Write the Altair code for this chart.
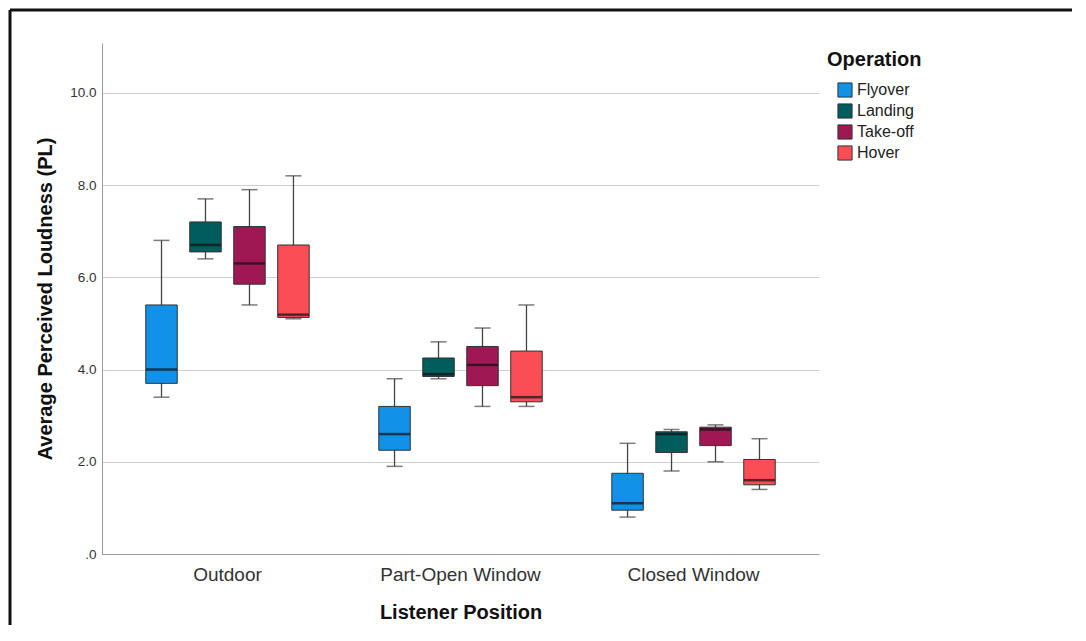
import altair as alt
import pandas as pd

positions = ["Outdoor", "Part-Open Window", "Closed Window"]
operations = ["Flyover", "Landing", "Take-off", "Hover"]
colors = ["#1192e8", "#005d5d", "#9f1853", "#fa4d56"]

# per position, in order of operations
lo = [3.4, 6.4, 5.4, 5.1,
      1.9, 3.8, 3.2, 3.2,
      0.8, 1.8, 2.0, 1.4]
q1 = [3.7, 6.55, 5.85, 5.13,
      2.25, 3.85, 3.65, 3.3,
      0.95, 2.2, 2.35, 1.5]
med = [4.0, 6.7, 6.3, 5.19,
       2.6, 3.9, 4.1, 3.4,
       1.1, 2.6, 2.7, 1.6]
q3 = [5.4, 7.2, 7.1, 6.7,
      3.2, 4.25, 4.5, 4.4,
      1.75, 2.65, 2.75, 2.05]
hi = [6.8, 7.7, 7.9, 8.2,
      3.8, 4.6, 4.9, 5.4,
      2.4, 2.7, 2.8, 2.5]

rows = []
i = 0
for p in positions:
    for o in operations:
        rows.append(dict(position=p, operation=o, lo=lo[i], q1=q1[i], med=med[i], q3=q3[i], hi=hi[i]))
        i += 1
df = pd.DataFrame(rows)

YTITLE = "Average Perceived Loudness (PL)"
yscale = alt.Scale(domain=[0, 11.08], nice=False, zero=True)
yaxis = alt.Axis(values=[0, 2, 4, 6, 8, 10],
                 labelExpr="datum.value == 0 ? '.0' : format(datum.value, '.1f')",
                 grid=True, gridColor="#cfcfcf", gridWidth=1, ticks=False,
                 domainColor="#9a9a9a", labelFontSize=13.5, labelColor="#333333",
                 labelPadding=6, titleFontSize=20, titleFontWeight="bold",
                 titleColor="#111111", titlePadding=14)


def Y(field):
    return alt.Y(field + ":Q", scale=yscale, axis=yaxis, title=YTITLE)


x = alt.X("position:N", sort=positions,
          scale=alt.Scale(paddingInner=0.245, paddingOuter=0.161),
          axis=alt.Axis(labelAngle=0, ticks=False, domainColor="#9a9a9a", labelFontSize=19,
                        labelColor="#333333", labelPadding=11, titleFontSize=20,
                        titleFontWeight="bold", titleColor="#111111", titlePadding=18,
                        grid=False),
          title="Listener Position")
xo = alt.XOffset("operation:N", sort=operations,
                 scale=alt.Scale(paddingInner=0.284, paddingOuter=0.142))

base = alt.Chart(df).encode(x=x, xOffset=xo)

whisker = base.mark_rule(color="#444444", strokeWidth=1.3).encode(y=Y("lo"), y2="hi:Q")
cap_lo = base.mark_tick(color="#444444", size=16, thickness=1.5).encode(y=Y("lo"))
cap_hi = base.mark_tick(color="#444444", size=16, thickness=1.5).encode(y=Y("hi"))
box = base.mark_bar(stroke="#333333", strokeWidth=1).encode(
    y=Y("q1"), y2="q3:Q",
    color=alt.Color("operation:N", sort=operations,
                    scale=alt.Scale(domain=operations, range=colors),
                    legend=alt.Legend(title="Operation", orient="none", legendX=725, legendY=7,
                                      titleFontSize=20, titleFontWeight="bold",
                                      titleColor="#111111", titlePadding=12,
                                      labelFontSize=16, labelColor="#222222",
                                      symbolType="square", symbolSize=200,
                                      symbolStrokeColor="#333333", symbolStrokeWidth=1,
                                      symbolOpacity=1, rowPadding=1, labelOffset=4,
                                      symbolOffset=10)))
median = base.mark_tick(color="#111111", size=31, thickness=2.5).encode(y=Y("med"))

frame_df = pd.DataFrame({"a": [0]})
frame_left = alt.Chart(frame_df).mark_rule(color="#111111", strokeWidth=3).encode(
    x=alt.value(-92), y=alt.value(-33), y2=alt.value(582))
frame_top = alt.Chart(frame_df).mark_rule(color="#111111", strokeWidth=3).encode(
    x=alt.value(-92), x2=alt.value(970), y=alt.value(-33))

chart = alt.layer(whisker, cap_lo, cap_hi, box, median, frame_left, frame_top).properties(
    width=717, height=511, padding=0
).configure(font="Liberation Sans").configure_view(stroke=None)

chart.save("out.html", embed_options={"renderer": "svg", "actions": False})
